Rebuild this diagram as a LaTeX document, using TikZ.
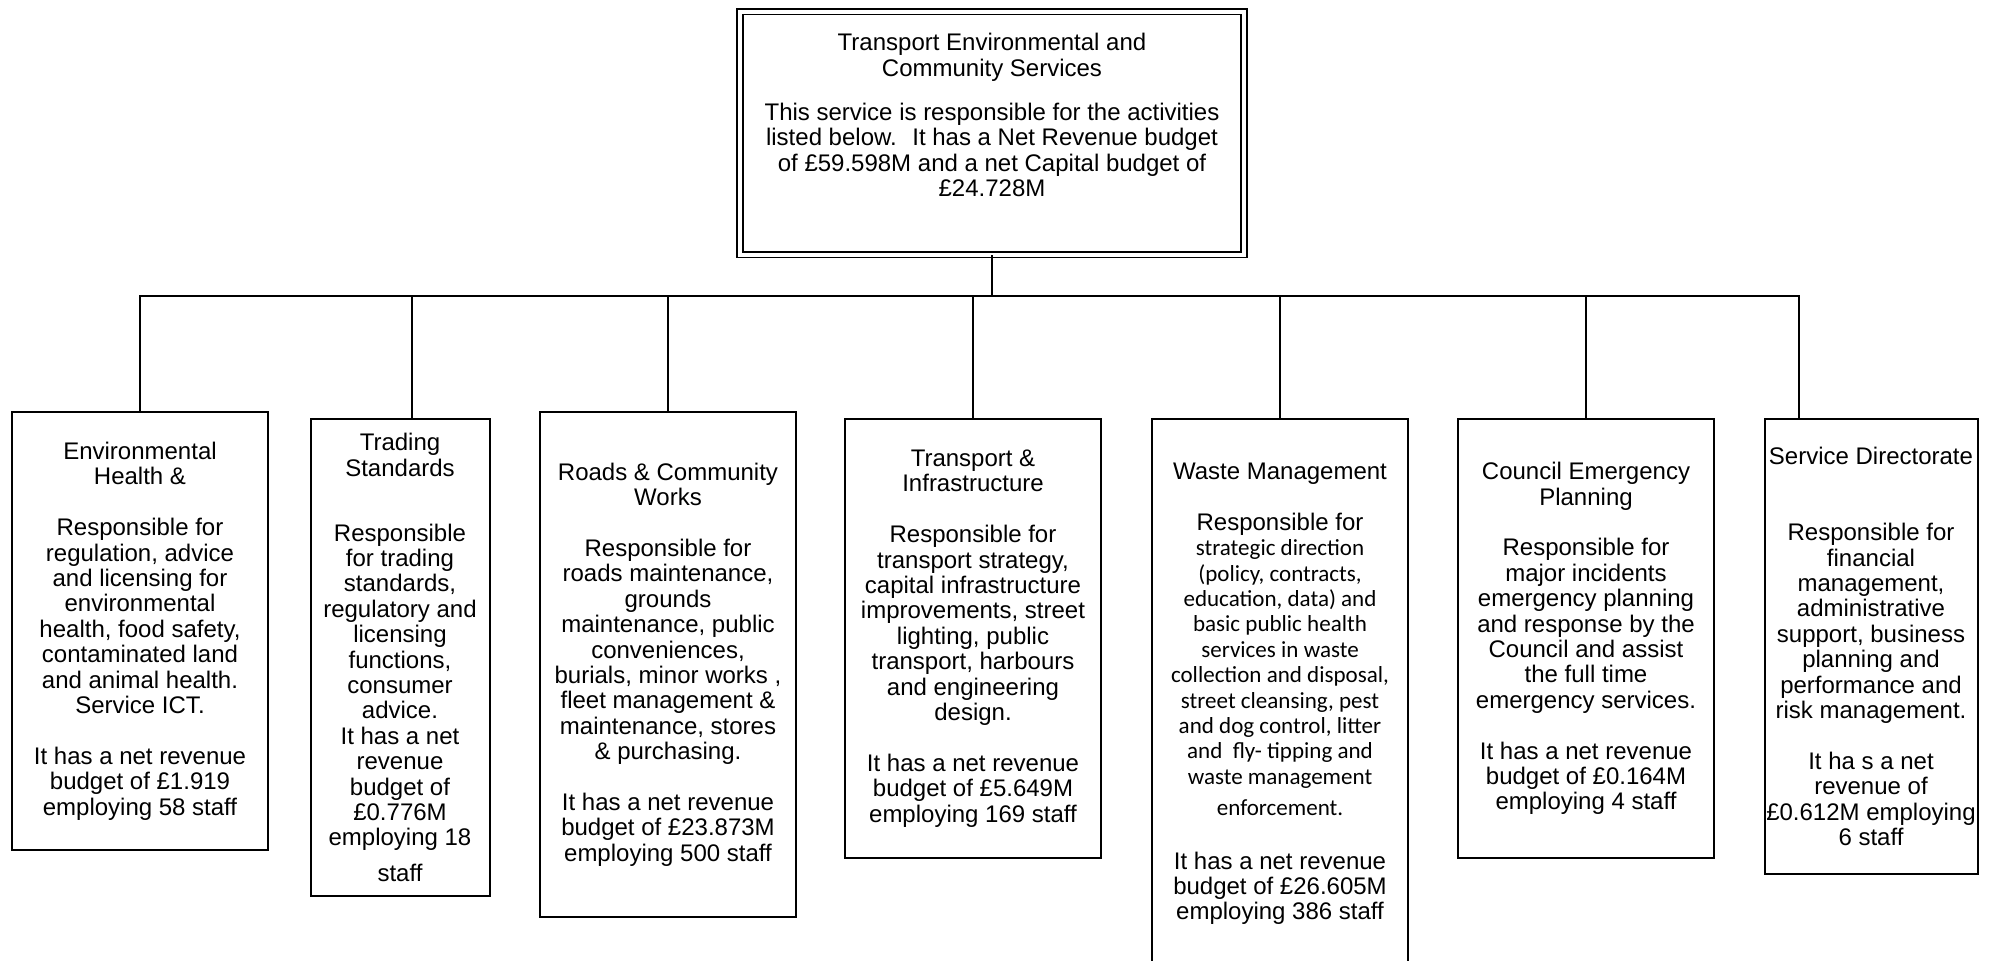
\documentclass[tikz,border=0pt]{standalone}
\usepackage{fontspec}
\setmainfont{Liberation Sans}
\newfontfamily\wastefont{Carlito}[Scale=0.96]

\begin{document}
\begin{tikzpicture}[
  x=0.5pt, y=-0.5pt,
  every node/.style={align=center, inner sep=0pt, font=\fontsize{12}{12.7}\selectfont},
  unit/.style={draw, line width=1pt, minimum width=127.75pt, anchor=north},
  link/.style={line width=0.8pt}
]
\useasboundingbox (0,0) rectangle (1993,960);

% Head of service
\node[draw, double, double distance=2pt, line width=0.8pt, minimum width=252pt, minimum height=121.5pt] (tecs) at (992,133)
  {Transport Environmental and\\Community Services\\[9.5pt]
   This service is responsible for the activities\\listed below.~ It has a Net Revenue budget\\of £59.598M and a net Capital budget of\\£24.728M\\[5.3pt]\mbox{}};

% Service units
\node[unit, minimum height=219pt] (envh) at (140,411)
  {Environmental\\Health \&\\[12.7pt]
   Responsible for\\regulation, advice\\and licensing for\\environmental\\health, food safety,\\contaminated land\\and animal health.\\Service ICT.\\[12.7pt]
   It has a net revenue\\budget of £1.919\\employing 58 staff};
\node[unit, minimum width=89.5pt, minimum height=238.5pt] (trading) at (400,418)
  {Trading\\Standards\\[19.7pt]
   Responsible\\for trading\\standards,\\regulatory and\\licensing\\functions,\\consumer\\advice.\\It has a net\\revenue\\budget of\\£0.776M\\employing 18\\[5pt]staff};
\node[unit, minimum height=252.5pt] (roads) at (668,411)
  {Roads \& Community\\Works\\[12.7pt]
   Responsible for\\roads maintenance,\\grounds\\maintenance, public\\conveniences,\\burials, minor works ,\\fleet management \&\\maintenance, stores\\\& purchasing.\\[12.7pt]
   It has a net revenue\\budget of £23.873M\\employing 500 staff};
\node[unit, minimum height=219.5pt] (transinf) at (973,418)
  {Transport \&\\Infrastructure\\[12.7pt]
   Responsible for\\transport strategy,\\capital infrastructure\\improvements, street\\lighting, public\\transport, harbours\\and engineering\\design.\\[12.7pt]
   It has a net revenue\\budget of £5.649M\\employing 169 staff};
\node[unit, minimum height=275pt] (waste) at (1280,418)
  {Waste Management\\[12.7pt]
   Responsible for\\\wastefont strategic direction\\\wastefont (policy, contracts,\\\wastefont education, data) and\\\wastefont basic public health\\\wastefont services in waste\\\wastefont collection and disposal,\\\wastefont street cleansing, pest\\\wastefont and dog control, litter\\\wastefont and~ fly- tipping and\\\wastefont waste management\\[3pt]\wastefont enforcement.\\[14pt]
   It has a net revenue\\budget of £26.605M\\employing 386 staff};
\node[unit, minimum height=219.5pt] (emerg) at (1586,418)
  {Council Emergency\\Planning\\[12.7pt]
   Responsible for\\major incidents\\emergency planning\\and response by the\\Council and assist\\the full time\\emergency services.\\[12.7pt]
   It has a net revenue\\budget of £0.164M\\employing 4 staff};
\node[unit, minimum width=106.5pt, minimum height=227.5pt] (directorate) at (1871,418)
  {Service Directorate\\[25.4pt]
   Responsible for\\financial\\management,\\administrative\\support, business\\planning and\\performance and\\risk management.\\[12.7pt]
   It ha s a net\\revenue of\\£0.612M employing\\6 staff};

% Connectors
\coordinate (bus) at (992,296);
\draw[link] (tecs) -- (bus);
\foreach \unitname in {envh, roads, transinf, waste, emerg}
  \draw[link] (bus) -| (\unitname.north);
\draw[link] (bus) -| ([xshift=6pt]trading.north);
\draw[link] (bus) -| ([xshift=-36pt]directorate.north);
\end{tikzpicture}
\end{document}
